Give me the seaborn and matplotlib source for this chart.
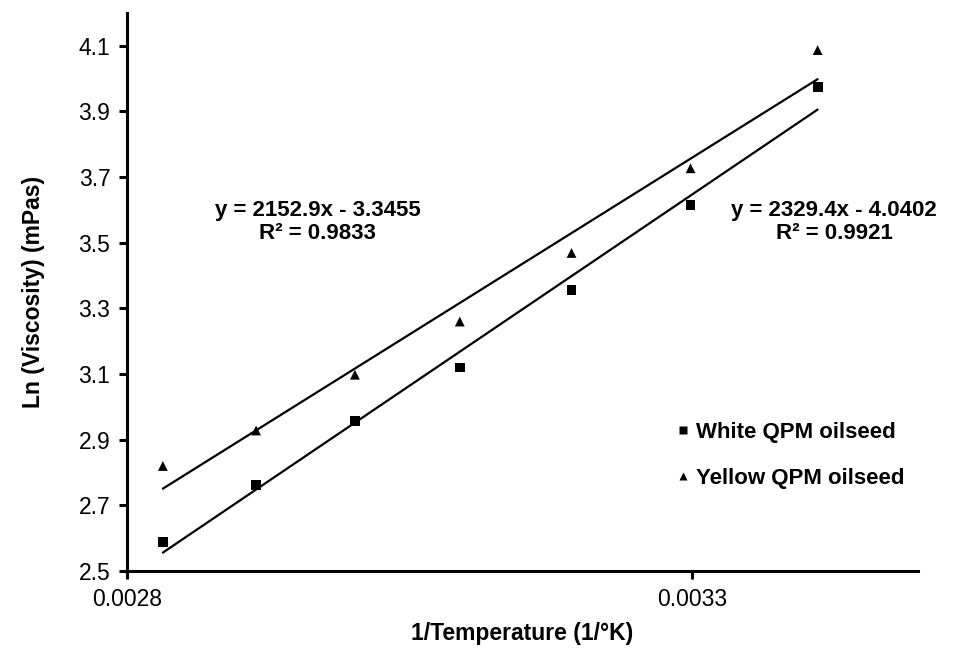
import numpy as np
import pandas as pd
import matplotlib
matplotlib.use("Agg")
import matplotlib.pyplot as plt
import seaborn as sns

# temperatures 80..20 degC expressed as 1/K
inv_temp = [0.0028317, 0.0029142, 0.0030017, 0.0030945, 0.0031934, 0.0032987, 0.0034112]
white_ln_visc = [2.589, 2.761, 2.958, 3.120, 3.356, 3.616, 3.975]
yellow_ln_visc = [2.820, 2.928, 3.098, 3.260, 3.469, 3.727, 4.087]

series_names = ["White QPM oilseed", "Yellow QPM oilseed"]
slopes = [2329.4, 2152.9]
intercepts = [-4.0402, -3.3455]
r_squared = [0.9921, 0.9833]

df = pd.DataFrame({
    "x": inv_temp * 2,
    "y": white_ln_visc + yellow_ln_visc,
    "series": [series_names[0]] * len(inv_temp) + [series_names[1]] * len(inv_temp),
})

sns.set_style("white")
plt.rcParams["font.family"] = ["Liberation Sans", "DejaVu Sans"]
plt.rcParams["text.color"] = "black"
plt.rcParams["axes.labelcolor"] = "black"

fig = plt.figure(figsize=(9.72, 6.51), dpi=100)
ax = fig.add_axes([0.1307, 0.1229, 0.8137, 0.8571])

sns.scatterplot(data=df, x="x", y="y", style="series", markers=["s", "^"],
                color="black", s=50, edgecolor="none", ax=ax, legend=True)

# trendlines from the fitted equations, over the data range
xs = np.array([min(inv_temp), max(inv_temp)])
for m, b in zip(slopes, intercepts):
    sns.lineplot(x=xs, y=m * xs + b, color="black", linewidth=1.6, ax=ax)

ax.text(0.0029688, 3.563, f"y = {slopes[1]}x - {abs(intercepts[1])}\nR² = {r_squared[1]}",
        ha="center", va="center", fontsize=16, fontweight="bold", linespacing=1.1)
ax.text(0.0034258, 3.563, f"y = {slopes[0]}x - {abs(intercepts[0])}\nR² = {r_squared[0]}",
        ha="center", va="center", fontsize=16, fontweight="bold", linespacing=1.1)

ax.set_xlim(0.0028, 0.0035)
ax.set_ylim(2.5, 4.2)
ax.set_xticks([0.0028, 0.0033])
ax.set_xticklabels(["0.0028", "0.0033"])
ax.set_yticks([2.5, 2.7, 2.9, 3.1, 3.3, 3.5, 3.7, 3.9, 4.1])
ax.set_yticklabels(["2.5", "2.7", "2.9", "3.1", "3.3", "3.5", "3.7", "3.9", "4.1"])

for side in ["top", "right"]:
    ax.spines[side].set_visible(False)
for side in ["left", "bottom"]:
    ax.spines[side].set_linewidth(2.2)
    ax.spines[side].set_color("black")
ax.tick_params(axis="both", which="major", direction="out", length=6, width=2.2,
               labelsize=16.5, colors="black", left=True, bottom=True, pad=6)

ax.set_xlabel("1/Temperature (1/°K)", fontsize=16.5, fontweight="bold", labelpad=8)
ax.set_ylabel("Ln (Viscosity) (mPas)", fontsize=16.5, fontweight="bold", labelpad=24)

leg = ax.legend(loc="center left", bbox_to_anchor=(0.68, 0.207), frameon=False,
                prop={"weight": "bold", "size": 16}, handlelength=0.6,
                handletextpad=0.3, labelspacing=1.15, markerscale=0.8, borderpad=0)

fig.savefig("out.png", dpi=100)
